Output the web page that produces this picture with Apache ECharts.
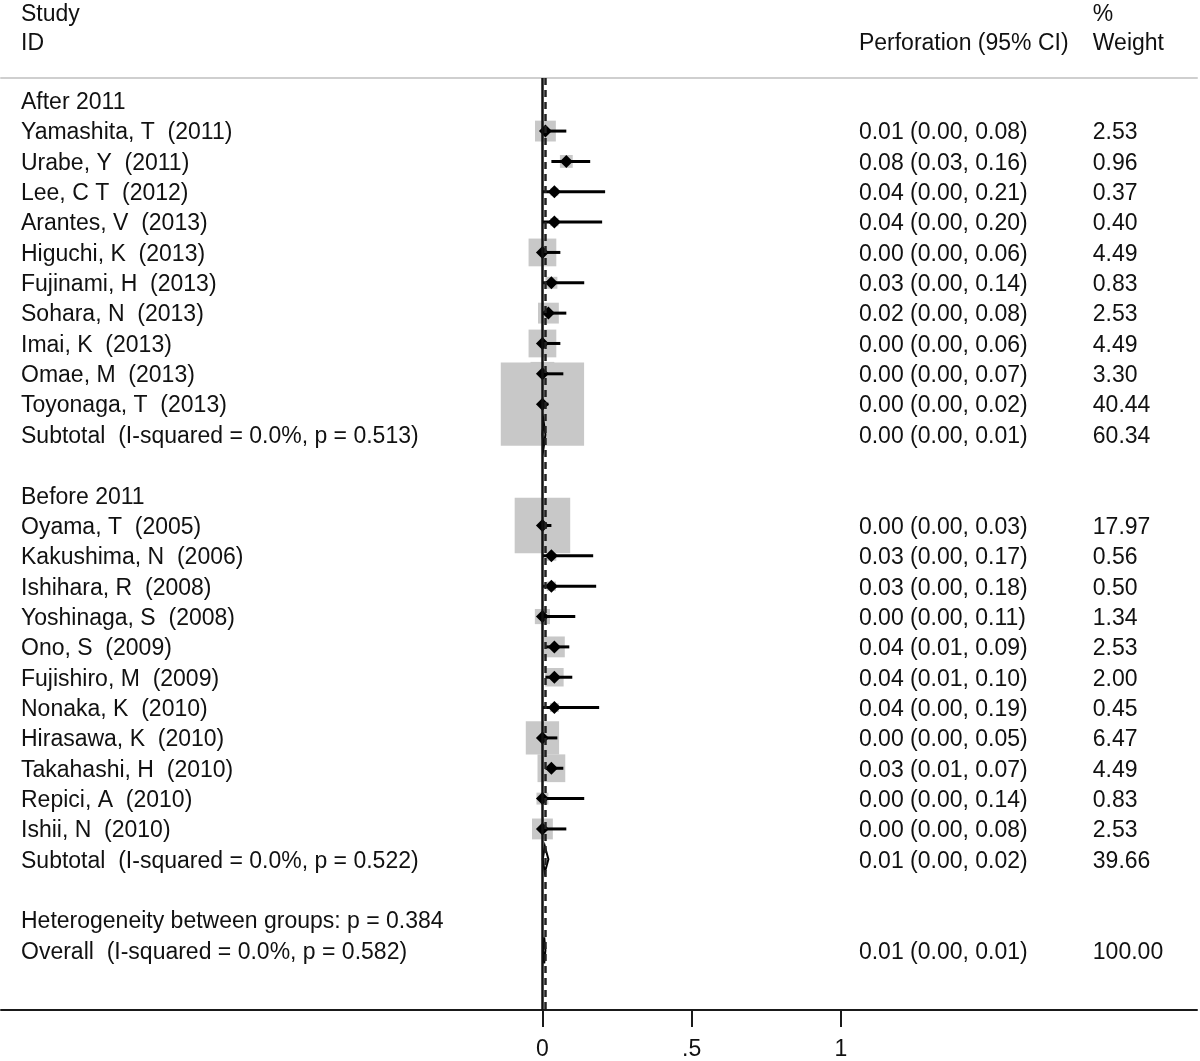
<!DOCTYPE html>
<html>
<head>
<meta charset="utf-8">
<script src="https://cdn.jsdelivr.net/npm/echarts@6/dist/echarts.min.js"></script>
<style>
html,body{margin:0;padding:0;background:#fff;}
#chart{width:1200px;height:1061px;}
</style>
</head>
<body>
<div id="chart"></div>
<script>
// ---------- data ----------
const groupNames = ['After 2011', 'Before 2011'];

const afterStudies = ['Yamashita, T  (2011)', 'Urabe, Y  (2011)', 'Lee, C T  (2012)', 'Arantes, V  (2013)', 'Higuchi, K  (2013)', 'Fujinami, H  (2013)', 'Sohara, N  (2013)', 'Imai, K  (2013)', 'Omae, M  (2013)', 'Toyonaga, T  (2013)'];
const afterEst = [0.01, 0.08, 0.04, 0.04, 0.00, 0.03, 0.02, 0.00, 0.00, 0.00];
const afterLo = [0.00, 0.03, 0.00, 0.00, 0.00, 0.00, 0.00, 0.00, 0.00, 0.00];
const afterHi = [0.08, 0.16, 0.21, 0.20, 0.06, 0.14, 0.08, 0.06, 0.07, 0.02];
const afterWeight = [2.53, 0.96, 0.37, 0.40, 4.49, 0.83, 2.53, 4.49, 3.30, 40.44];

const beforeStudies = ['Oyama, T  (2005)', 'Kakushima, N  (2006)', 'Ishihara, R  (2008)', 'Yoshinaga, S  (2008)', 'Ono, S  (2009)', 'Fujishiro, M  (2009)', 'Nonaka, K  (2010)', 'Hirasawa, K  (2010)', 'Takahashi, H  (2010)', 'Repici, A  (2010)', 'Ishii, N  (2010)'];
const beforeEst = [0.00, 0.03, 0.03, 0.00, 0.04, 0.04, 0.04, 0.00, 0.03, 0.00, 0.00];
const beforeLo = [0.00, 0.00, 0.00, 0.00, 0.01, 0.01, 0.00, 0.00, 0.01, 0.00, 0.00];
const beforeHi = [0.03, 0.17, 0.18, 0.11, 0.09, 0.10, 0.19, 0.05, 0.07, 0.14, 0.08];
const beforeWeight = [17.97, 0.56, 0.50, 1.34, 2.53, 2.00, 0.45, 6.47, 4.49, 0.83, 2.53];

const subtotalLabels = ['Subtotal  (I-squared = 0.0%, p = 0.513)', 'Subtotal  (I-squared = 0.0%, p = 0.522)'];
const subtotalEst = [0.004, 0.008];
const subtotalLo = [0.000, 0.001];
const subtotalHi = [0.010, 0.020];
const subtotalWeight = [60.34, 39.66];

const heterogeneityLabel = 'Heterogeneity between groups: p = 0.384';
const overallLabel = 'Overall  (I-squared = 0.0%, p = 0.582)';
const overallEst = 0.006, overallLo = 0.002, overallHi = 0.010, overallWeight = 100.00;

const xTickValues = [0, 0.5, 1];
const xTickLabels = ['0', '.5', '1'];

const headerLeft = ['Study', 'ID'];
const headerCI = 'Perforation (95% CI)';
const headerWeight = ['%', 'Weight'];

// ---------- build rows ----------
const fmt = v => v.toFixed(2);
const ciText = (e, l, h) => fmt(e) + ' (' + fmt(l) + ', ' + fmt(h) + ')';

const COL_NAME = -1.747, COL_CI = 1.0603, COL_W = 1.844;
const texts = [];   // [x, row, text]
const boxes = [];   // [est, row, weight, lo, hi]
const diamonds = []; // [est, row, lo, hi]

let row = 0;
const groups = [
  [afterStudies, afterEst, afterLo, afterHi, afterWeight],
  [beforeStudies, beforeEst, beforeLo, beforeHi, beforeWeight]
];
groups.forEach((g, gi) => {
  texts.push([COL_NAME, row, groupNames[gi]]);
  row++;
  const [names, est, lo, hi, w] = g;
  names.forEach((n, i) => {
    texts.push([COL_NAME, row, n]);
    texts.push([COL_CI, row, ciText(est[i], lo[i], hi[i])]);
    texts.push([COL_W, row, fmt(w[i])]);
    boxes.push([est[i], row, w[i], lo[i], hi[i]]);
    row++;
  });
  texts.push([COL_NAME, row, subtotalLabels[gi]]);
  texts.push([COL_CI, row, ciText(subtotalEst[gi], subtotalLo[gi], subtotalHi[gi])]);
  texts.push([COL_W, row, fmt(subtotalWeight[gi])]);
  diamonds.push([subtotalEst[gi], row, subtotalLo[gi], subtotalHi[gi]]);
  row += 2;
});
texts.push([COL_NAME, row, heterogeneityLabel]);
row++;
texts.push([COL_NAME, row, overallLabel]);
texts.push([COL_CI, row, ciText(overallEst, overallLo, overallHi)]);
texts.push([COL_W, row, fmt(overallWeight)]);
diamonds.push([overallEst, row, overallLo, overallHi]);

// headers
texts.push([COL_NAME, -2.9, headerLeft[0]]);
texts.push([COL_NAME, -1.95, headerLeft[1]]);
texts.push([COL_CI, -1.95, headerCI]);
texts.push([COL_W, -2.9, headerWeight[0]]);
texts.push([COL_W, -1.95, headerWeight[1]]);

// ---------- chart ----------
const XMIN = -1.814, XMAX = 2.193;
const YMIN = -0.749, YMAX = 29.967;
const FONT = '23px "Liberation Sans", Arial, sans-serif';
const TXT = '#111';
const BOX_K = 13.1;
const TEXT_DY = 2;

const chart = echarts.init(document.getElementById('chart'), null, {renderer: 'canvas'});
chart.setOption({
  animation: false,
  backgroundColor: '#fff',
  grid: {left: 1, right: 3, top: 78, bottom: 48, containLabel: false},
  xAxis: [{
    type: 'value', min: XMIN, max: XMAX, position: 'bottom',
    axisLine: {show: true, onZero: false, lineStyle: {color: '#1a1a1a', width: 2}},
    axisTick: {show: true, customValues: xTickValues, length: 17, inside: false, lineStyle: {color: '#1a1a1a', width: 2}},
    axisLabel: {show: true, customValues: xTickValues, margin: 28, color: TXT, fontSize: 23,
      fontFamily: '"Liberation Sans", Arial, sans-serif',
      formatter: v => { const i = xTickValues.findIndex(t => Math.abs(t - v) < 1e-9); return i >= 0 ? xTickLabels[i] : ''; }},
    splitLine: {show: false}
  }, {
    type: 'value', min: XMIN, max: XMAX, position: 'top',
    axisLine: {show: true, onZero: false, lineStyle: {color: '#cfcfcf', width: 2}},
    axisTick: {show: false}, axisLabel: {show: false}, splitLine: {show: false}
  }],
  yAxis: {type: 'value', min: YMIN, max: YMAX, inverse: true, show: false},
  series: [
    {
      type: 'line', data: [], z: 1,
      markLine: {
        silent: true, symbol: 'none', label: {show: false}, animation: false,
        data: [
          {xAxis: 0, lineStyle: {color: '#111', width: 2.5, type: 'solid'}},
          {xAxis: overallEst, lineStyle: {color: '#222', width: 2.5, type: [7, 5]}}
        ]
      }
    },
    {
      type: 'custom', z: 2, data: boxes, clip: false,
      renderItem: (params, api) => {
        const c = api.coord([api.value(0), api.value(1)]);
        const s = BOX_K * Math.sqrt(api.value(2));
        return {type: 'rect', shape: {x: c[0] - s / 2, y: c[1] - s / 2, width: s, height: s},
          style: {fill: '#c8c8c8'}};
      }
    },
    {
      type: 'custom', z: 3, data: boxes, clip: false,
      renderItem: (params, api) => {
        const c = api.coord([api.value(0), api.value(1)]);
        const l = api.coord([api.value(3), api.value(1)]);
        const h = api.coord([api.value(4), api.value(1)]);
        const d = 6.5;
        return {type: 'group', children: [
          {type: 'line', shape: {x1: l[0], y1: l[1], x2: h[0], y2: h[1]}, style: {stroke: '#000', lineWidth: 3}},
          {type: 'polygon', shape: {points: [[c[0] - d, c[1]], [c[0], c[1] - d], [c[0] + d, c[1]], [c[0], c[1] + d]]}, style: {fill: '#000'}}
        ]};
      }
    },
    {
      type: 'custom', z: 4, data: diamonds, clip: false,
      renderItem: (params, api) => {
        const c = api.coord([api.value(0), api.value(1)]);
        const l = api.coord([api.value(2), api.value(1)]);
        const h = api.coord([api.value(3), api.value(1)]);
        const hh = 13;
        return {type: 'polygon', shape: {points: [[l[0], c[1]], [c[0], c[1] - hh], [h[0], c[1]], [c[0], c[1] + hh]]},
          style: {fill: '#fff', stroke: '#000', lineWidth: 2}};
      }
    },
    {
      type: 'custom', z: 5, data: texts, clip: false,
      renderItem: (params, api) => {
        const c = api.coord([api.value(0), api.value(1)]);
        return {type: 'text', x: c[0], y: c[1] + TEXT_DY,
          style: {text: texts[params.dataIndex][2], fill: TXT, font: FONT, align: 'left', verticalAlign: 'middle'}};
      }
    }
  ]
});
</script>
</body>
</html>
